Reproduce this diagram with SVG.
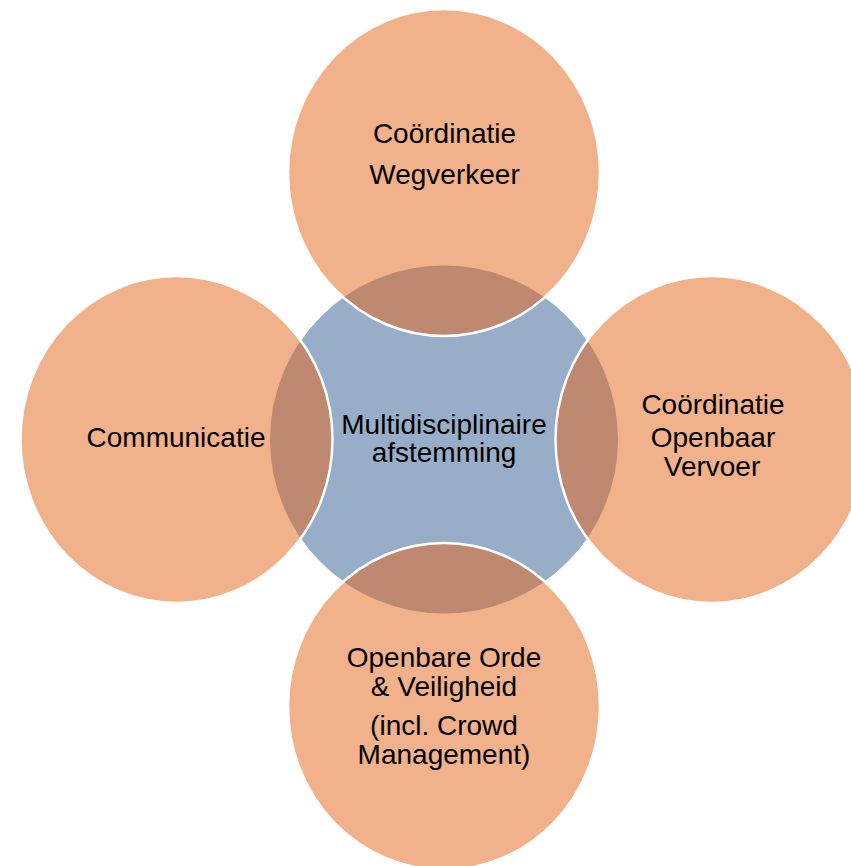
<svg xmlns="http://www.w3.org/2000/svg" width="851" height="866" viewBox="0 0 851 866">
<style>
.hub{fill:#98AEC8;}
.sat{fill:rgb(227,99,23);fill-opacity:0.5;stroke:#FFFFFF;stroke-width:2.5;}
.lbl{font-family:"Liberation Sans",Arial,sans-serif;font-size:28px;fill:#000000;text-anchor:middle;}
</style>
<rect width="851" height="866" fill="#FFFFFF"/>
<g id="connectors"></g>
<g id="center">
<circle class="hub" cx="444" cy="439.5" r="174"/>
<text class="lbl" x="444" y="434">Multidisciplinaire</text>
<text class="lbl" x="444" y="462">afstemming</text>
</g>
<g id="top">
<ellipse class="sat" cx="444" cy="172.5" rx="156" ry="163.5"/>
<text class="lbl" x="444.5" y="143">Coördinatie</text>
<text class="lbl" x="444.5" y="184">Wegverkeer</text>
</g>
<g id="right">
<ellipse class="sat" cx="711.5" cy="439.5" rx="156" ry="163.5"/>
<text class="lbl" x="713" y="414">Coördinatie</text>
<text class="lbl" x="713" y="447">Openbaar</text>
<text class="lbl" x="712" y="476">Vervoer</text>
</g>
<g id="bottom">
<ellipse class="sat" cx="444" cy="706.5" rx="156" ry="163.5"/>
<text class="lbl" x="444" y="667">Openbare Orde</text>
<text class="lbl" x="444" y="696">&amp; Veiligheid</text>
<text class="lbl" x="444" y="735">(incl. Crowd</text>
<text class="lbl" x="444" y="764">Management)</text>
</g>
<g id="left">
<ellipse class="sat" cx="176.5" cy="439.5" rx="156" ry="163.5"/>
<text class="lbl" x="176" y="447">Communicatie</text>
</g>
</svg>
